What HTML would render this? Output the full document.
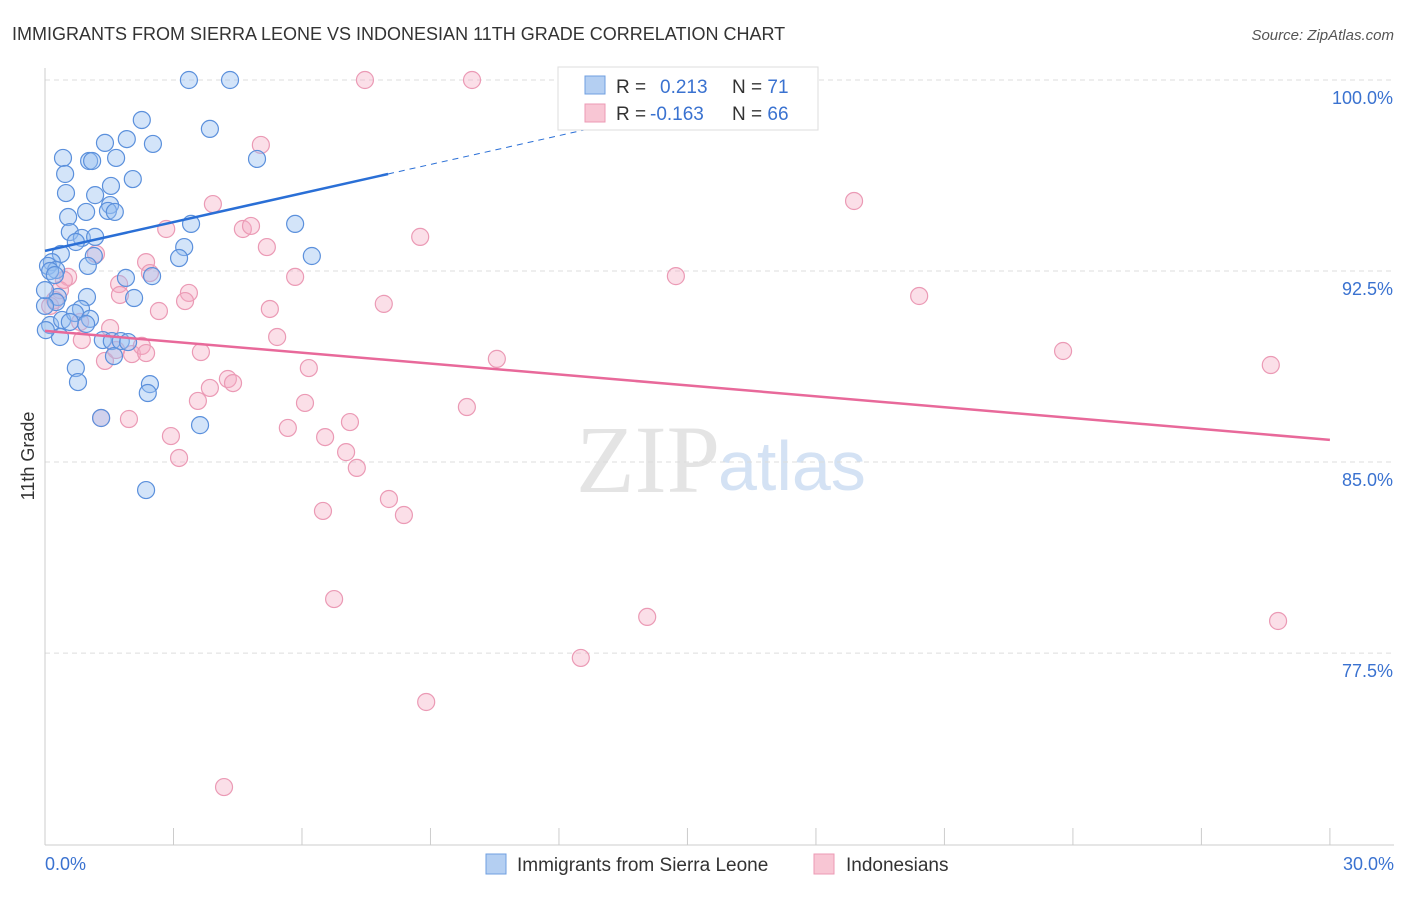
<!DOCTYPE html>
<html><head><meta charset="utf-8"><style>
body{margin:0;background:#fff;font-family:"Liberation Sans",sans-serif}
</style></head><body>
<svg id="c" width="1406" height="892" xmlns="http://www.w3.org/2000/svg">
<text x="12" y="40" font-size="18" fill="#333">IMMIGRANTS FROM SIERRA LEONE VS INDONESIAN 11TH GRADE CORRELATION CHART</text>
<text x="1394" y="40" font-size="15" fill="#555" font-style="italic" text-anchor="end">Source: ZipAtlas.com</text>
<text x="720" y="492" font-size="96" fill="#e4e4e4" text-anchor="end" font-family="Liberation Serif">ZIP</text>
<text x="718" y="490" font-size="70" fill="#d4e2f4">atlas</text>
<text transform="translate(34,456) rotate(-90)" font-size="18" fill="#333" text-anchor="middle">11th Grade</text>
<g id="grid"></g><g id="axes"></g><g id="pts"></g><g id="lines"></g>
<g>
<rect x="558" y="67" width="260" height="63" fill="#fff" stroke="#ddd"/>
<rect x="585" y="76" width="20" height="18" fill="#b4cff2" stroke="#6f9fe0"/>
<rect x="585" y="104" width="20" height="18" fill="#f8c6d4" stroke="#ec9ab4"/>
<text x="616" y="93" font-size="19" fill="#333">R = <tspan fill="#3a72d0" x="660">0.213</tspan><tspan x="732" fill="#333">N = </tspan><tspan fill="#3a72d0">71</tspan></text>
<text x="616" y="120" font-size="19" fill="#333">R = <tspan fill="#3a72d0" x="650">-0.163</tspan><tspan x="732" fill="#333">N = </tspan><tspan fill="#3a72d0">66</tspan></text>
</g>
<g>
<rect x="486" y="854" width="20" height="20" fill="#b4cff2" stroke="#6f9fe0"/>
<text x="517" y="871" font-size="19" fill="#333">Immigrants from Sierra Leone</text>
<rect x="814" y="854" width="20" height="20" fill="#f8c6d4" stroke="#ec9ab4"/>
<text x="846" y="871" font-size="19" fill="#333">Indonesians</text>
</g>
</svg>
<script>
const yTicks=[100,92.5,85,77.5];
const yTickLabels=["100.0%","92.5%","85.0%","77.5%"];
const xLabels=["0.0%","30.0%"];
const blueX=[3.36,4.32,2.26,3.85,1.40,1.91,2.52,0.42,1.03,1.10,1.66,4.95,0.47,2.05,1.54,0.49,1.17,1.52,0.54,0.96,1.47,1.63,3.41,5.84,0.58,0.86,1.17,0.72,3.25,0.37,1.14,6.23,3.13,0.16,0.07,0.26,1.00,1.89,2.50,0.12,0.30,0.98,2.08,0.26,0.84,0.12,0.40,0.70,1.05,0.96,0.35,1.35,1.56,1.77,1.94,1.61,0.72,0.77,2.45,2.40,3.62,1.31,2.36,0.0,0.23,0.0,0.02,0.58];
const blueY=[100,100,98.43,98.08,97.53,97.68,97.49,96.94,96.82,96.82,96.94,96.90,96.31,96.11,95.84,95.56,95.48,95.09,94.62,94.82,94.86,94.82,94.35,94.35,94.03,93.80,93.84,93.64,93.44,93.17,93.09,93.09,93.01,92.85,92.70,92.54,92.70,92.23,92.30,92.50,91.48,91.48,91.44,91.28,91.01,90.38,90.58,90.85,90.62,90.42,89.91,89.79,89.75,89.75,89.71,89.16,88.69,88.14,88.06,87.71,86.45,86.73,83.90,91.13,92.34,91.75,90.18,90.50];
const pinkX=[7.47,9.97,5.04,18.89,3.92,2.83,4.62,4.81,8.76,5.18,2.36,1.19,14.73,5.84,0.54,2.45,3.36,3.27,20.41,7.91,2.66,5.25,1.73,1.52,5.42,0.86,3.64,23.77,10.55,1.40,2.03,2.26,28.62,6.16,4.27,4.39,3.85,3.57,6.07,9.85,7.12,1.31,1.96,5.67,2.94,6.54,7.03,3.13,7.28,8.03,8.38,6.49,6.75,14.06,28.79,12.51,8.90,4.18,0.35,0.23,0.12,0.82,0.44,1.75,2.36,1.66];
const pinkY=[100,100,97.45,95.25,95.13,94.15,94.15,94.27,93.84,93.44,92.85,93.17,92.30,92.27,92.27,92.42,91.64,91.32,91.52,91.21,90.93,91.01,91.99,90.26,89.91,89.79,89.32,89.36,89.05,88.97,89.24,89.56,88.81,88.69,88.26,88.10,87.91,87.40,87.32,87.16,86.57,86.73,86.69,86.34,86.02,85.98,85.39,85.16,84.77,83.55,82.92,83.08,79.62,78.92,78.76,77.31,75.58,72.24,91.75,91.36,91.13,90.50,92.15,91.56,89.28,89.40];
const blueTrend=[0,93.29,8.01,96.31,12.7,98.08];
const pinkTrend=[0,90.15,30,85.87];
const X=v=>45+v*42.83, Y=v=>80+(100-v)*25.47;
const NS="http://www.w3.org/2000/svg";
function mk(t,a,p){const e=document.createElementNS(NS,t);for(const k in a)e.setAttribute(k,a[k]);document.getElementById(p).appendChild(e);return e;}
yTicks.forEach((t,i)=>{
 const l=mk('line',{x1:45,x2:1394,y1:Y(t),y2:Y(t),stroke:'#ddd','stroke-dasharray':'5,4'},'grid');
 
 
 const tx=mk('text',{x:1393,y:Y(t)+24,'font-size':18,fill:'#3a72d0','text-anchor':'end'},'grid');
 tx.textContent=yTickLabels[i];
 
 
});
const ya=mk('line',{x1:45,x2:45,y1:68,y2:845,stroke:'#ccc'},'axes');


const xa=mk('line',{x1:45,x2:1394,y1:845,y2:845,stroke:'#ccc'},'axes');


for(let i=0;i<=10;i++){
 const t=mk('line',{x1:X(i*3),x2:X(i*3),y1:828,y2:845,stroke:'#ccc'},'axes');
 
 
}
const xl0=mk('text',{x:45,y:870,'font-size':18,fill:'#3a72d0'},'axes');xl0.textContent=xLabels[0];


const xl1=mk('text',{x:1394,y:870,'font-size':18,fill:'#3a72d0','text-anchor':'end'},'axes');xl1.textContent=xLabels[1];


pinkX.forEach((x,i)=>{
 const c=mk('circle',{cx:X(x),cy:Y(pinkY[i]),r:8.5,fill:'rgba(245,170,195,0.38)',stroke:'#eb9ab5','stroke-width':1.2},'pts');
 
 
});
blueX.forEach((x,i)=>{
 const c=mk('circle',{cx:X(x),cy:Y(blueY[i]),r:8.5,fill:'rgba(150,190,240,0.42)',stroke:'#5b90dc','stroke-width':1.2},'pts');
 
 
});
const bl=mk('line',{x1:X(blueTrend[0]),y1:Y(blueTrend[1]),x2:X(blueTrend[2]),y2:Y(blueTrend[3]),stroke:'#2a6fd6','stroke-width':2.5},'lines');


const bd=mk('line',{x1:X(blueTrend[2]),y1:Y(blueTrend[3]),x2:X(blueTrend[4]),y2:Y(blueTrend[5]),stroke:'#2a6fd6','stroke-width':1,'stroke-dasharray':'6,5'},'lines');


const pl=mk('line',{x1:X(pinkTrend[0]),y1:Y(pinkTrend[1]),x2:X(pinkTrend[2]),y2:Y(pinkTrend[3]),stroke:'#e8699a','stroke-width':2.5},'lines');


</script>
</body></html>
